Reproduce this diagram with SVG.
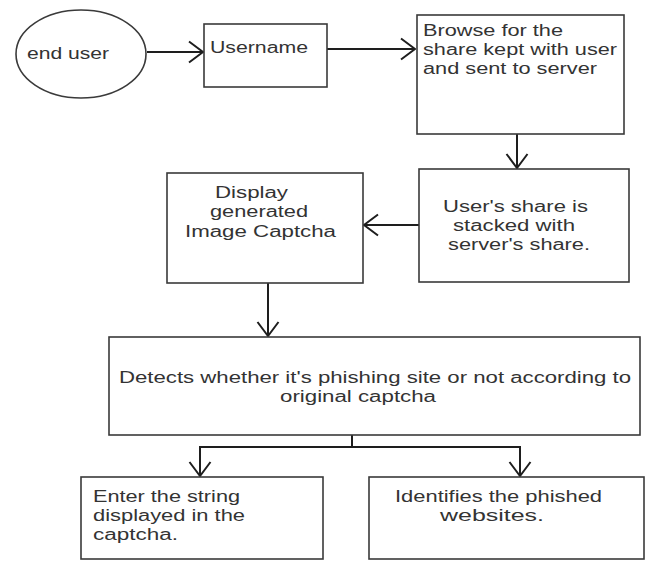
<svg xmlns="http://www.w3.org/2000/svg" width="646" height="561" viewBox="0 0 646 561">
<defs>
<style>
.box{fill:#fff;stroke:#3a3a3a;stroke-width:1.6}
.t{font-family:"Liberation Sans",Arial,sans-serif;font-size:16px;fill:#333}
.c{fill:none;stroke:#1e1e1e;stroke-width:2}
</style>
<marker id="ah" markerUnits="userSpaceOnUse" viewBox="0 0 16 24" markerWidth="16" markerHeight="24" refX="15" refY="12" orient="auto">
<path d="M1,1.5 L15,12 L1,22.5" fill="none" stroke="#1e1e1e" stroke-width="2"/>
</marker>
</defs>
<rect width="646" height="561" fill="#fff"/>
<g id="connectors">
<path class="c" d="M147,52 H203" marker-end="url(#ah)"/>
<path class="c" d="M327,49 H415" marker-end="url(#ah)"/>
<path class="c" d="M517,134 V168" marker-end="url(#ah)"/>
<path class="c" d="M419,225 H364" marker-end="url(#ah)"/>
<path class="c" d="M268,283 V336" marker-end="url(#ah)"/>
<path class="c" d="M352,435 V447 H200 V476" marker-end="url(#ah)"/>
<path class="c" d="M352,447 H520 V476" marker-end="url(#ah)"/>
</g>
<g id="end-user">
<ellipse class="box" cx="81" cy="54" rx="65" ry="44"/>
<text class="t" x="27" y="59" textLength="82" lengthAdjust="spacingAndGlyphs">end user</text>
</g>
<g id="username">
<rect class="box" x="204" y="24" width="123" height="63"/>
<text class="t" x="210" y="53" textLength="98" lengthAdjust="spacingAndGlyphs">Username</text>
</g>
<g id="browse">
<rect class="box" x="417" y="15" width="207" height="119"/>
<text class="t" x="423" y="36" textLength="140" lengthAdjust="spacingAndGlyphs">Browse for the</text>
<text class="t" x="423" y="55" textLength="194" lengthAdjust="spacingAndGlyphs">share kept with user</text>
<text class="t" x="423" y="74" textLength="174" lengthAdjust="spacingAndGlyphs">and sent to server</text>
</g>
<g id="stacked">
<rect class="box" x="419" y="169" width="210" height="113"/>
<text class="t" x="443" y="212" textLength="145" lengthAdjust="spacingAndGlyphs">User's share is</text>
<text class="t" x="453" y="231" textLength="122" lengthAdjust="spacingAndGlyphs">stacked with</text>
<text class="t" x="448" y="250" textLength="142" lengthAdjust="spacingAndGlyphs">server's share.</text>
</g>
<g id="display">
<rect class="box" x="167" y="173" width="196" height="110"/>
<text class="t" x="215" y="198" textLength="73" lengthAdjust="spacingAndGlyphs">Display</text>
<text class="t" x="210" y="217" textLength="98" lengthAdjust="spacingAndGlyphs">generated</text>
<text class="t" x="185" y="237" textLength="151" lengthAdjust="spacingAndGlyphs">Image Captcha</text>
</g>
<g id="detect">
<rect class="box" x="109" y="337" width="531" height="98"/>
<text class="t" x="119" y="383" textLength="512" lengthAdjust="spacingAndGlyphs">Detects whether it's phishing site or not according to</text>
<text class="t" x="280" y="402" textLength="156" lengthAdjust="spacingAndGlyphs">original captcha</text>
</g>
<g id="enter-string">
<rect class="box" x="81" y="477" width="242" height="82"/>
<text class="t" x="93" y="502" textLength="147" lengthAdjust="spacingAndGlyphs">Enter the string</text>
<text class="t" x="93" y="521" textLength="152" lengthAdjust="spacingAndGlyphs">displayed in the</text>
<text class="t" x="93" y="540" textLength="85" lengthAdjust="spacingAndGlyphs">captcha.</text>
</g>
<g id="identifies">
<rect class="box" x="369" y="477" width="275" height="82"/>
<text class="t" x="395" y="502" textLength="207" lengthAdjust="spacingAndGlyphs">Identifies the phished</text>
<text class="t" x="440" y="521" textLength="104" lengthAdjust="spacingAndGlyphs">websites.</text>
</g>
</svg>
